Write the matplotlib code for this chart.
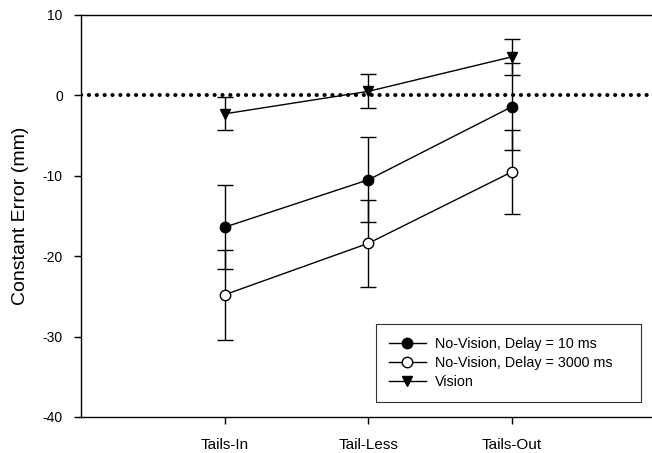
import matplotlib
matplotlib.use("Agg")
import matplotlib.pyplot as plt
from matplotlib.lines import Line2D

plt.rcParams['font.family'] = ['Liberation Sans', 'DejaVu Sans']
plt.rcParams['axes.unicode_minus'] = False

categories = ["Tails-In", "Tail-Less", "Tails-Out"]
nv10 = [-16.4, -10.5, -1.4]
nv10_err = [5.2, 5.3, 5.4]
nv3000 = [-24.8, -18.4, -9.5]
nv3000_err = [5.6, 5.4, 5.2]
vision = [-2.3, 0.5, 4.8]
vision_err = [2.05, 2.1, 2.25]
labels = ["No-Vision, Delay = 10 ms", "No-Vision, Delay = 3000 ms", "Vision"]

fig = plt.figure(figsize=(6.52, 4.53), dpi=100)
ax = fig.add_axes([0.124, 0.0795, 0.882, 0.8875])

x = [1, 2, 3]
ax.axhline(0, color='black', linestyle=(0, (0.05, 1.9)), linewidth=2.9, dash_capstyle='round', zorder=1)

common = dict(color='black', linewidth=1.0, elinewidth=1.0, capsize=5.5, capthick=1.0, markersize=7.5, zorder=3)
ax.errorbar(x, nv10, yerr=nv10_err, fmt='-o', markerfacecolor='black', markeredgecolor='black', **common)
ax.errorbar(x, nv3000, yerr=nv3000_err, fmt='-o', markerfacecolor='white', markeredgecolor='black', **common)
ax.errorbar(x, vision, yerr=vision_err, fmt='-v', markerfacecolor='black', markeredgecolor='black', **common)

ax.set_xlim(0, 4)
ax.set_ylim(-40, 10)
ax.set_yticks([-40, -30, -20, -10, 0, 10])
ax.set_xticks(x)
ax.set_xticklabels(categories)
ax.tick_params(axis='both', direction='out', length=5, width=1)
ax.tick_params(axis='x', pad=10, labelsize=11)
ax.tick_params(axis='y', pad=8, labelsize=10)
ax.spines['right'].set_visible(False)
for s in ['left', 'top', 'bottom']:
    ax.spines[s].set_linewidth(1.0)
ax.set_ylabel("Constant Error (mm)", fontsize=14, labelpad=10)

handles = [
    Line2D([], [], color='black', marker='o', markerfacecolor='black', markersize=7.5, linewidth=1),
    Line2D([], [], color='black', marker='o', markerfacecolor='white', markersize=7.5, linewidth=1),
    Line2D([], [], color='black', marker='v', markerfacecolor='black', markersize=7.5, linewidth=1),
]
leg = ax.legend(handles, labels, loc='lower left', bbox_to_anchor=(0.513, 0.0373, 0.461, 0.2), mode='expand',
                fontsize=10.3, frameon=True, fancybox=False, edgecolor='black', handlelength=2.6,
                handletextpad=0.6, borderpad=0.9, labelspacing=0.35, borderaxespad=0)
leg.get_frame().set_linewidth(0.8)

fig.savefig("out.png", dpi=100)
